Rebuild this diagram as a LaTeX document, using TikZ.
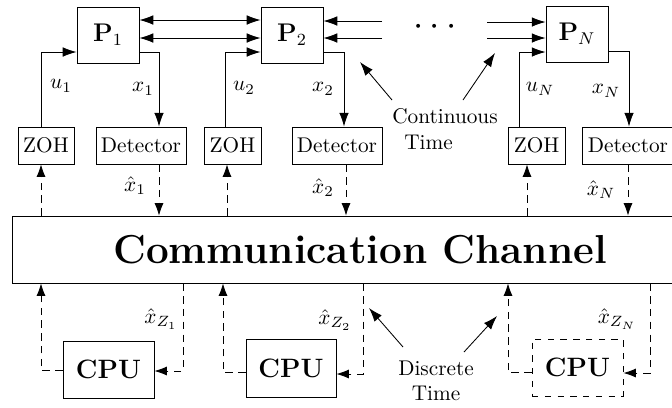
\documentclass[tikz,border=0pt]{standalone}
\usetikzlibrary{arrows.meta,calc}
\def\pxl{0.47pt}
\begin{document}
\begin{tikzpicture}[x=0.47pt,y=-0.47pt,
  box/.style={draw, inner sep=0pt},
  arr/.style={-{Latex[length=6.5pt,width=4.5pt]}},
  arrboth/.style={{Latex[length=6.5pt,width=4.5pt]}-{Latex[length=6.5pt,width=4.5pt]}},
  dline/.style={dash pattern=on 3.5pt off 2.5pt},
  darr/.style={dline,-{Latex[length=5.8pt,width=4.2pt]}},
  lab/.style={inner sep=0pt},
  ptext/.style={font=\large},
  cputext/.style={font=\fontsize{12.5}{15}\selectfont\bfseries}]
\useasboundingbox (0,0) rectangle (672,407);
\clip (0,0) rectangle (672,407);

% plants
\node[box, minimum width=62*\pxl, minimum height=56*\pxl, ptext] (p1) at (108,35) {$\mathbf{P}_1$};
\node[box, minimum width=62*\pxl, minimum height=56*\pxl, ptext] (p2) at (292,35) {$\mathbf{P}_2$};
\node[box, minimum width=62*\pxl, minimum height=56*\pxl, ptext] (pN) at (577,34) {$\mathbf{P}_N$};

% ZOH and detectors
\node[box, minimum width=56*\pxl, minimum height=37*\pxl] (zoh1) at (46,145.5) {ZOH};
\node[box, minimum width=90*\pxl, minimum height=37*\pxl] (det1) at (141,145.5) {Detector};
\node[box, minimum width=57*\pxl, minimum height=37*\pxl] (zoh2) at (232.5,145.5) {ZOH};
\node[box, minimum width=90*\pxl, minimum height=37*\pxl] (det2) at (337,145.5) {Detector};
\node[box, minimum width=57*\pxl, minimum height=37*\pxl] (zohN) at (536.5,145.5) {ZOH};
\node[box, minimum width=92*\pxl, minimum height=37*\pxl] (detN) at (628,145.5) {Detector};

% channel
\node[box, minimum width=696*\pxl, minimum height=67*\pxl, font=\fontsize{19}{23}\selectfont\bfseries] (ch) at (360,249.5) {Communication Channel};

% CPUs
\node[box, minimum width=91*\pxl, minimum height=57*\pxl, cputext] (cpu1) at (108.5,369.5) {CPU};
\node[box, minimum width=90*\pxl, minimum height=58*\pxl, cputext] (cpu2) at (291,368) {CPU};
\node[box, dashed, minimum width=91*\pxl, minimum height=57*\pxl, cputext] (cpuN) at (577.5,367.5) {CPU};

% column coordinates
\coordinate (cu1) at (41,0);   \coordinate (cx1) at (159,0);
\coordinate (cu2) at (225,0);  \coordinate (cx2) at (344,0);
\coordinate (cuN) at (519,0);  \coordinate (cxN) at (629,0);
\coordinate (dz1) at (41,0);   \coordinate (dd1) at (159,0);
\coordinate (dz2) at (227,0);  \coordinate (dd2) at (346,0);
\coordinate (dzN) at (527,0);  \coordinate (ddN) at (628,0);
\coordinate (b1l) at (41,0);   \coordinate (b1r) at (183,0);
\coordinate (b2l) at (223,0);  \coordinate (b2r) at (363,0);
\coordinate (bNl) at (508,0);  \coordinate (bNr) at (650,0);

% plant interconnections
\draw[arrboth] ($(p1.east)+(0,-15)$) -- ($(p2.west)+(0,-15)$);
\draw[arrboth] ($(p1.east)+(0,3)$) -- ($(p2.west)+(0,3)$);
\coordinate (c2a) at (382,21);
\coordinate (c2b) at (382,38);
\coordinate (cNa) at (487,22);
\coordinate (cNb) at (487,38);
\draw[arr] (c2a) -- (p2.east |- c2a);
\draw[arr] (c2b) -- (p2.east |- c2b);
\draw[arr] (cNa) -- (pN.west |- cNa);
\draw[arr] (cNb) -- (pN.west |- cNb);
\node[lab, font=\LARGE] (dots) at (435,27) {$\cdots$};

% inputs and outputs
\draw[arr] (zoh1.north -| cu1) |- ($(p1.west)+(0,17)$);
\draw[arr] ($(p1.east)+(0,17)$) -| (det1.north -| cx1);
\draw[arr] (zoh2.north -| cu2) |- ($(p2.west)+(0,17)$);
\draw[arr] ($(p2.east)+(0,17)$) -| (det2.north -| cx2);
\draw[arr] (zohN.north -| cuN) |- ($(pN.west)+(0,18)$);
\draw[arr] ($(pN.east)+(0,17)$) -| (detN.north -| cxN);

\node[lab] (lu1) at (61,86) {$u_1$};
\node[lab] (lx1) at (143,89) {$x_1$};
\node[lab] (lu2) at (244,88) {$u_2$};
\node[lab] (lx2) at (323,89) {$x_2$};
\node[lab] (luN) at (540,89) {$u_N$};
\node[lab] (lxN) at (606,91) {$x_N$};

% dashed links to channel
\draw[darr] (ch.north -| dz1) -- (zoh1.south -| dz1);
\draw[darr] (det1.south -| dd1) -- (ch.north -| dd1);
\draw[darr] (ch.north -| dz2) -- (zoh2.south -| dz2);
\draw[darr] (det2.south -| dd2) -- (ch.north -| dd2);
\draw[darr] (ch.north -| dzN) -- (zohN.south -| dzN);
\draw[darr] (detN.south -| ddN) -- (ch.north -| ddN);

\node[lab] (lxh1) at (135,186) {$\hat{x}_1$};
\node[lab] (lxh2) at (323,188) {$\hat{x}_2$};
\node[lab] (lxhN) at (601,190) {$\hat{x}_N$};

% CPU links
\draw[darr] ($(cpu1.west)+(0,0.5)$) -| (ch.south -| b1l);
\draw[darr] (ch.south -| b1r) |- ($(cpu1.east)+(0,1.5)$);
\draw[darr] ($(cpu2.west)+(0,4)$) -| (ch.south -| b2l);
\draw[darr] (ch.south -| b2r) |- ($(cpu2.east)+(0,6)$);
\draw[darr] ($(cpuN.west)+(0,4.5)$) -| (ch.south -| bNl);
\draw[darr] (ch.south -| bNr) |- ($(cpuN.east)+(0,5.5)$);

\node[lab] (lz1) at (161,319) {$\hat{x}_{Z_1}$};
\node[lab] (lz2) at (335,320) {$\hat{x}_{Z_2}$};
\node[lab] (lzN) at (617,319) {$\hat{x}_{Z_N}$};

% annotations
\node[lab, align=left] (ct) at (445,129) {Continuous\\\hspace*{5.6pt}Time};
\coordinate (ct1s) at (392,100); \coordinate (ct1e) at (360,62);
\coordinate (ct2s) at (463,100); \coordinate (ct2e) at (495,53);
\draw[arr] (ct1s) -- (ct1e);
\draw[arr] (ct2s) -- (ct2e);

\node[lab, align=center] (dt) at (436,381) {Discrete\\Time};
\coordinate (dt1s) at (403,347); \coordinate (dt1e) at (369,308);
\coordinate (dt2s) at (464,352); \coordinate (dt2e) at (497,316);
\draw[arr] (dt1s) -- (dt1e);
\draw[arr] (dt2s) -- (dt2e);
\end{tikzpicture}
\end{document}
